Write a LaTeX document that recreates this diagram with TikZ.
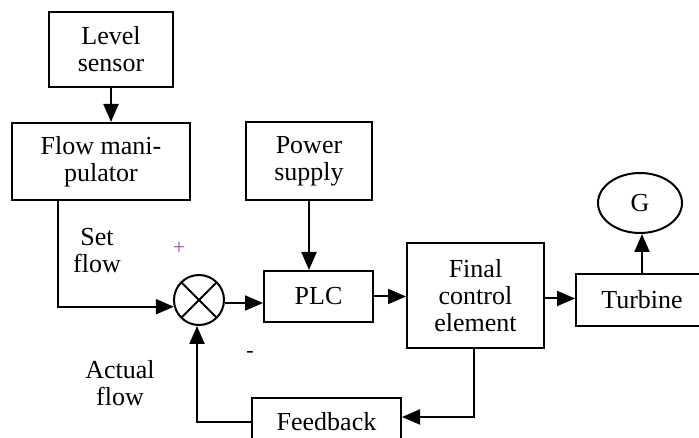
\documentclass[tikz,border=0pt]{standalone}
\usepackage{fontspec}
\setmainfont{Liberation Serif}
\usepackage{xcolor}
\definecolor{signpurple}{RGB}{150,90,150}
\usepackage{tikz}
\usetikzlibrary{arrows.meta}
\usetikzlibrary{shapes.geometric}
\newcommand{\boxfont}{\fontsize{26}{27}\selectfont}
\tikzset{
    common/.style={draw, line width=2pt, align=center, font=\boxfont, inner sep=0pt},
    block/.style={common, rectangle},
    gen/.style={common, ellipse, minimum width=84, minimum height=60},
    sum/.style={common, circle, minimum size=50,
        path picture={
            \draw[line width=2pt]
                (path picture bounding box.south east)--(path picture bounding box.north west)
                (path picture bounding box.south west)--(path picture bounding box.north east);
        }
    },
    flow/.style={line width=2pt, -{Triangle[length=18pt,width=15pt]}},
    lbl/.style={align=center, font=\boxfont}
}

\begin{document}
\begin{tikzpicture}[x=1pt, y=-1pt]
            \useasboundingbox (0,0) rectangle (699,438);
            \clip (0,0) rectangle (699,438);

            \path
                (111,49.5) node[block, minimum width=124, minimum height=75] (level) {Level\\sensor}
                (101,161.5) node[block, minimum width=178, minimum height=77] (manip) {Flow mani-\\pulator}
                (309,161) node[block, minimum width=126, minimum height=78] (power) {Power\\supply}
                (199,300) node[sum] (sum) {}
                (318.5,296.5) node[block, minimum width=109, minimum height=51] (plc) {PLC}
                (475.5,295.5) node[block, minimum width=137, minimum height=105] (final) {Final\\control\\element}
                (642,300) node[block, minimum width=132, minimum height=52] (turbine) {Turbine}
                (640,203) node[gen] (gen) {G}
                (326.5,422) node[block, minimum width=149, minimum height=48] (feedback) {Feedback};

            \path
                (97,251) node[lbl] (setflow) {Set\\flow}
                (120,383) node[lbl] (actflow) {Actual\\flow}
                (179,248) node[font=\fontsize{22}{22}\selectfont, text=signpurple] (plus) {+}
                (250,354) node[font=\fontsize{22}{22}\selectfont] (minus) {-};

            \draw[flow] (level.south) -- (level.south |- manip.north);
            \draw[flow] ([xshift=-43pt]manip.south) |- (sum.195);
            \draw[flow] (power.south) -- (power.south |- plc.north);
            \draw[flow] ([yshift=-3pt]sum.east) -- ([yshift=-3pt]sum.east -| plc.west);
            \draw[flow] (plc.east) -- (plc.east -| final.west);
            \draw[flow] ([yshift=-3pt]final.east) -- ([yshift=-3pt]final.east -| turbine.west);
            \draw[flow] (turbine.north) -- (turbine.north |- gen.south);
            \draw[flow] ([xshift=-1.5pt]final.south) |- ([yshift=5pt]feedback.east);
            \draw[flow] (feedback.west) -| ([xshift=-2pt]sum.south);
        \end{tikzpicture}
\end{document}
